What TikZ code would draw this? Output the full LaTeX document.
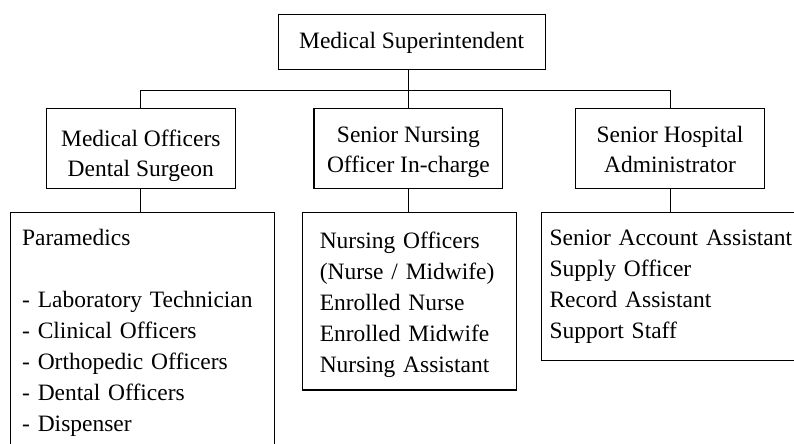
\documentclass[tikz,border=0pt]{standalone}
\usepackage{fontspec}
\setmainfont{Liberation Serif}

\begin{document}
\begin{tikzpicture}[
    font=\fontsize{16.7}{22}\selectfont,
    head/.style={
        draw,
        line width=0.8pt,
        inner sep=0pt,
        minimum width=6.675cm,
        text height=0.85cm,
        text depth=0.525cm,
        anchor=north
    },
    unit/.style={
        draw,
        line width=0.8pt,
        inner ysep=0pt,
        align=center,
        minimum width=4.72cm,
        anchor=north,
        font=\fontsize{16.7}{21.3}\selectfont
    },
    staff/.style={
        draw,
        line width=0.8pt,
        inner ysep=0pt,
        align=left,
        anchor=north west
    },
    link/.style={
        line width=0.6pt
    }
    ]
    \path[use as bounding box] (0,0) rectangle (19.85,-11.075);
    \clip (0,0) rectangle (19.85,-11.075);

    \node[head] (CHIEF) at (10.29,-0.35) {Medical Superintendent};

    \node[unit,text height=1.71cm,text depth=0.29cm] (MED)   at (3.52,-2.6875) {Medical Officers\\Dental Surgeon};
    \node[unit,text height=1.605cm,text depth=0.4cm] (NURSE) at (10.21,-2.6875) {Senior Nursing\\Officer In-charge};
    \node[unit,text height=1.605cm,text depth=0.4cm] (ADMIN) at (16.75,-2.6875) {Senior Hospital\\Administrator};

    \node[staff,inner xsep=0.29cm,text width=6.015cm,text height=0.825cm,text depth=5.375cm] (PARA) at (0.25,-5.3)
        {Paramedics\\[22pt]- Laboratory Technician\\- Clinical Officers\\- Orthopedic Officers\\- Dental Officers\\- Dispenser};
    \node[staff,inner xsep=0.43cm,text width=4.49cm,text height=0.91cm,text depth=3.525cm] (NSTAFF) at (7.55,-5.3)
        {Nursing Officers\\(Nurse / Midwife)\\Enrolled Nurse\\Enrolled Midwife\\Nursing Assistant};
    \node[staff,inner xsep=0.2cm,text width=6.3cm,text height=0.825cm,text depth=2.875cm] (ASTAFF) at (13.525,-5.3)
        {Senior Account Assistant\\Supply Officer\\Record Assistant\\Support Staff};

    \coordinate (BUS) at (0,-2.25);
    \draw[link] (CHIEF.south -| NURSE.north) -- (NURSE.north);
    \draw[link] (MED.north) -- (MED.north |- BUS) -- (ADMIN.north |- BUS) -- (ADMIN.north);

    \draw[link] (MED.south) -- (MED.south |- PARA.north);
    \draw[link] (NURSE.south) -- (NURSE.south |- NSTAFF.north);
    \draw[link] (ADMIN.south) -- (ADMIN.south |- ASTAFF.north);
\end{tikzpicture}
\end{document}
